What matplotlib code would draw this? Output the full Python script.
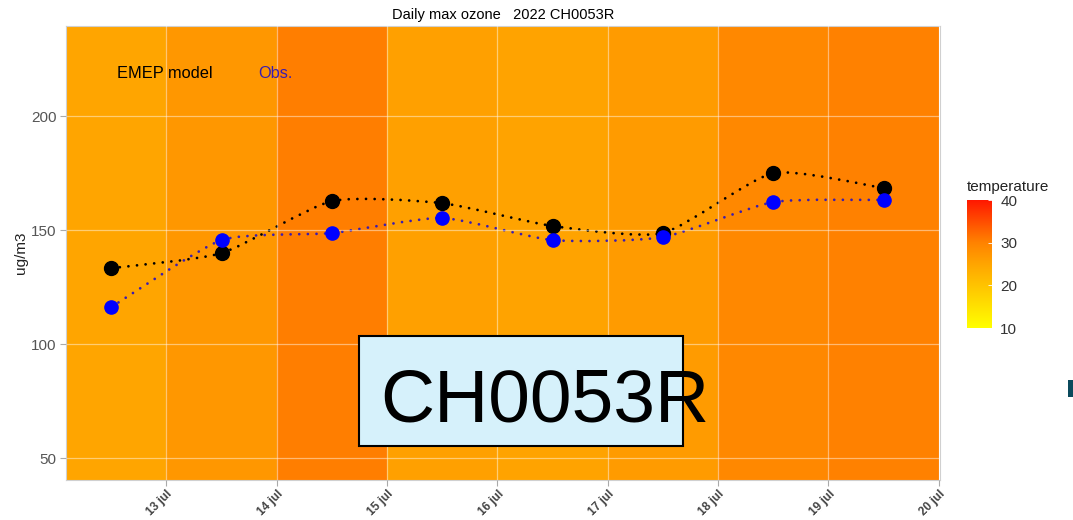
import numpy as np
import matplotlib
matplotlib.use("Agg")
import matplotlib.pyplot as plt
from matplotlib.colors import LinearSegmentedColormap, Normalize
from matplotlib.path import Path
from matplotlib.patches import PathPatch, Rectangle

plt.rcParams["font.family"] = ["Liberation Sans", "DejaVu Sans"]

# Daily values (day of July 2022)
day_edges = [12, 13, 14, 15, 16, 17, 18, 19, 20]
temperature = [25.0, 27.0, 30.5, 25.8, 25.3, 26.5, 29.2, 30.2]
point_days = [12.5, 13.5, 14.5, 15.5, 16.5, 17.5, 18.5, 19.5]
model_o3 = [133.3, 139.9, 162.7, 161.8, 151.8, 148.7, 175.0, 168.4]
obs_o3 = [116.2, 145.6, 148.7, 155.3, 145.6, 146.9, 162.3, 163.2]
x_ticks = [13, 14, 15, 16, 17, 18, 19, 20]
x_labels = ["13 jul", "14 jul", "15 jul", "16 jul", "17 jul", "18 jul", "19 jul", "20 jul"]
y_ticks = [50, 100, 150, 200]
station = "CH0053R"

model_col = "black"
obs_col = "#3A1CB0"

cmap = LinearSegmentedColormap.from_list(
    "temp", [(0.0, "#FFFF00"), (0.33, "#FFC400"), (0.5, "#FFA500"),
             (0.67, "#FF8200"), (1.0, "#FF1800")])
norm = Normalize(10, 40)

fig = plt.figure(figsize=(10.73, 5.20), dpi=100)
ax = fig.add_axes([0.0615, 0.0769, 0.8145, 0.8731])

ylo, yhi = 40.4, 239.5
mesh = ax.pcolormesh(day_edges, [ylo, yhi], [temperature], cmap=cmap, norm=norm,
                     shading="flat", zorder=0)
ax.set_xlim(12.09, 20.01)
ax.set_ylim(ylo, yhi)

ax.grid(True, color="white", alpha=0.45, linewidth=0.9, zorder=1)
ax.set_axisbelow(False)


def smooth_path(xs, ys, tension=10.0):
    pts = np.column_stack([xs, ys])
    ext = np.vstack([pts[0], pts, pts[-1]])
    verts = [tuple(pts[0])]
    codes = [Path.MOVETO]
    for i in range(len(pts) - 1):
        p0, p1, p2, p3 = ext[i], ext[i + 1], ext[i + 2], ext[i + 3]
        c1 = p1 + (p2 - p0) / tension
        c2 = p2 - (p3 - p1) / tension
        verts += [tuple(c1), tuple(c2), tuple(p2)]
        codes += [Path.CURVE4] * 3
    return Path(verts, codes)


for ys, col in [(model_o3, model_col), (obs_o3, obs_col)]:
    patch = PathPatch(smooth_path(point_days, ys), facecolor="none", edgecolor=col,
                      linewidth=2.0, linestyle=(0, (0.01, 3.1)), capstyle="round",
                      zorder=2)
    ax.add_patch(patch)

ax.plot(point_days, model_o3, "o", color=model_col, markersize=10, zorder=3)
ax.plot(point_days, obs_o3, "o", color="#0000FF", markersize=9.5, zorder=3)

ax.text(12.99, 218.5, "EMEP model", color="black", fontsize=11.8, ha="center", va="center")
ax.text(13.99, 218.5, "Obs.", color=obs_col, fontsize=11.8, ha="center", va="center")

ax.set_xticks(x_ticks)
ax.set_xticklabels(x_labels, rotation=45, ha="right", va="top", rotation_mode="anchor",
                   fontsize=8.5, fontweight="bold", color="#444444")
ax.set_yticks(y_ticks)
ax.tick_params(axis="y", labelsize=11, labelcolor="#555555", color="#AAAAAA", length=4,
               pad=3)
ax.tick_params(axis="x", color="#AAAAAA", length=4, pad=2)
ax.set_ylabel("ug/m3", fontsize=11, color="#222222", labelpad=2)
for s in ax.spines.values():
    s.set_color("#D0D0D0")
    s.set_linewidth(0.8)
ax.set_title("Daily max ozone   2022 " + station, fontsize=10.5, pad=5)

# Temperature colour bar
cax = fig.add_axes([0.9012, 0.369, 0.0233, 0.246])
cb = fig.colorbar(mesh, cax=cax, ticks=[10, 20, 30, 40])
cb.outline.set_visible(False)
cax.tick_params(axis="y", direction="in", color="white", length=3, width=0.6,
                labelsize=11, labelcolor="#333333", pad=6)
cax.text(0.0, 1.05, "temperature", transform=cax.transAxes, fontsize=11,
         ha="left", va="bottom", color="#222222")

# Station label box
fig.patches.append(Rectangle((359 / 1073, 1 - 446 / 520), 324 / 1073, 110 / 520,
                             transform=fig.transFigure, facecolor="#D6F1FB",
                             edgecolor="black", linewidth=1.5, zorder=5))
fig.text(380 / 1073, 1 - 421 / 520, station, fontsize=54, ha="left", va="baseline",
         color="black", zorder=6)

# Small dark marker at the right edge
fig.patches.append(Rectangle((1068 / 1073, 1 - 397 / 520), 5 / 1073, 17 / 520,
                             transform=fig.transFigure, facecolor="#0B4A5C",
                             edgecolor="none", zorder=5))

fig.savefig("out.png", dpi=100)
